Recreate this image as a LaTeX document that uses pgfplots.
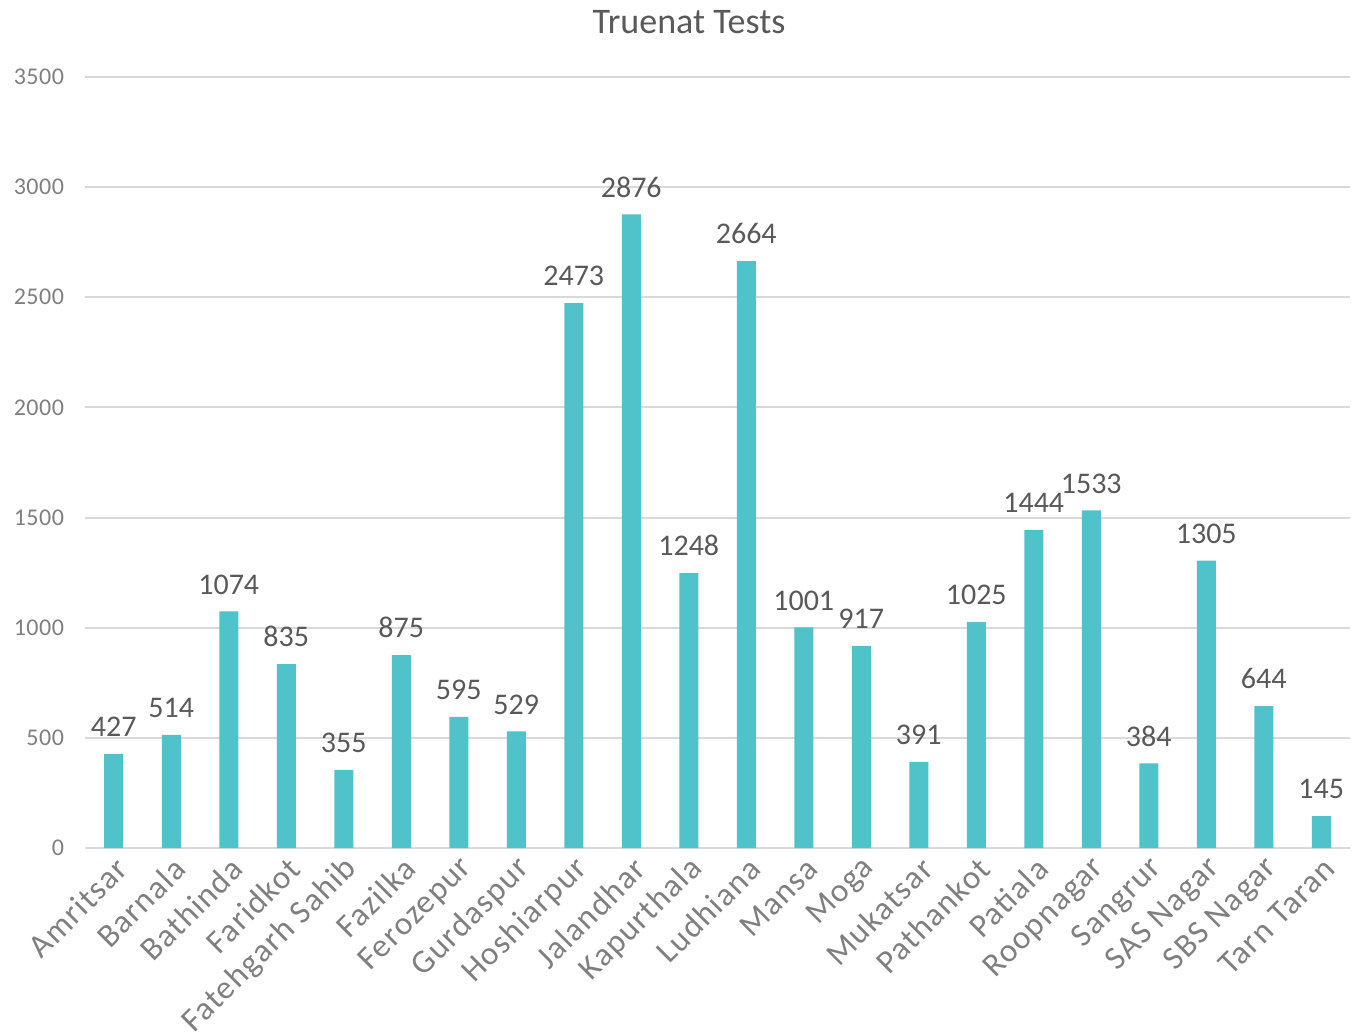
\documentclass[border=0pt]{standalone}
\usepackage{fontspec}
\setmainfont{Carlito}
\usepackage{pgfplots}
\pgfplotsset{compat=1.18}
\definecolor{barc}{HTML}{4FC3C9}
\definecolor{gridc}{HTML}{D9D9D9}
\definecolor{darkt}{HTML}{595959}
\definecolor{lightt}{HTML}{7F7F7F}
\begin{document}
\begin{tikzpicture}
\begin{axis}[
  scale only axis,
  width=632.5pt, height=385.5pt,
  xmin=-0.5, xmax=21.5,
  ymin=0, ymax=3500,
  ytick={0,500,...,3500},
  xtick={0,...,21},
  xticklabels={Amritsar,Barnala,Bathinda,Faridkot,Fatehgarh Sahib,Fazilka,Ferozepur,Gurdaspur,Hoshiarpur,Jalandhar,Kapurthala,Ludhiana,Mansa,Moga,Mukatsar,Pathankot,Patiala,Roopnagar,Sangrur,SAS Nagar,SBS Nagar,Tarn Taran},
  /pgf/number format/assume math mode=true,
  /pgf/number format/1000 sep={},
  axis y line*=left,
  axis x line*=bottom,
  y axis line style={draw=none},
  x axis line style={draw=gridc, line width=1pt, -},
  ymajorgrids,
  grid style={draw=gridc, line width=1pt},
  major tick length=0pt,
  tick style={draw=none},
  yticklabel style={font=\fontsize{12}{14}\selectfont\addfontfeatures{LetterSpace=2}, text=lightt, xshift=-7pt},
  xticklabel style={font=\fontsize{16.5}{18}\selectfont\addfontfeatures{LetterSpace=4}, text=lightt, rotate=45, anchor=east, yshift=-8.5pt, xshift=1pt},
  ybar, bar width=9.5pt,
  nodes near coords,
  every node near coord/.append style={font=\fontsize{15}{17}\selectfont, text=darkt, yshift=5pt},
  clip=false,
]
\addplot[fill=barc, draw=none] coordinates {
(0,427) (1,514) (2,1074) (3,835) (4,355) (5,875) (6,595) (7,529) (8,2473) (9,2876) (10,1248)
(11,2664) (12,1001) (13,917) (14,391) (15,1025) (16,1444) (17,1533) (18,384) (19,1305) (20,644) (21,145)};
\end{axis}
\node[font=\fontsize{18}{21}\selectfont, text=darkt] at (302pt,413pt) {Truenat Tests};
\pgfresetboundingbox
\path[use as bounding box] (-42.5pt,-92.5pt) rectangle (637.5pt,424pt);
\end{tikzpicture}
\end{document}
